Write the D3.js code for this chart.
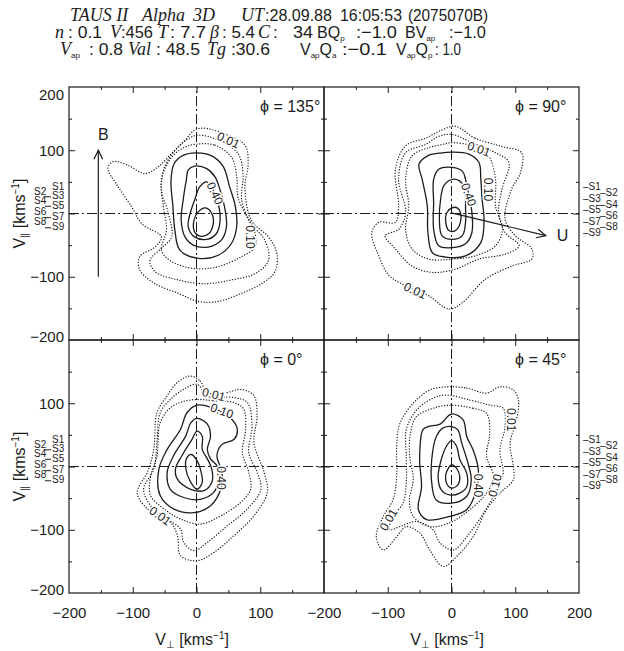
<!DOCTYPE html>
<html><head><meta charset="utf-8">
<script src="https://cdn.jsdelivr.net/npm/d3@7"></script>
<style>
body{margin:0;background:#fff}
svg text{fill:#1c1c1c;font-family:"Liberation Sans",Arial,sans-serif}
</style></head><body>
<svg id="chart" width="624" height="651"></svg>
<script>
// angle of each cut, panels in reading order
var panelPhi = ["135", "90", "0", "45"];

// contour paths, [V_perp, V_par] in km/s
var dotted135 = [
  [[10,135],[44,126],[76,108],[81,79],[76,42],[86,-11],[113,-37],[126,-63],[123,-92],[102,-111],[71,-126],[34,-139],[3,-139],[-29,-126],[-65,-111],[-89,-89],[-89,-68],[-65,-53],[-55,-37],[-86,-16],[-102,11],[-126,47],[-139,71],[-131,82],[-107,76],[-81,63],[-60,74],[-39,95],[-18,116],[-3,132]],
  [[3,124],[34,116],[65,95],[73,63],[71,21],[86,-16],[107,-42],[113,-74],[92,-95],[55,-105],[13,-111],[-29,-105],[-65,-92],[-73,-74],[-55,-55],[-39,-37],[-44,0],[-55,37],[-50,74],[-29,105],[-13,118]],
  [[3,110],[29,108],[55,89],[63,58],[65,26],[79,-5],[92,-32],[92,-53],[71,-68],[34,-84],[-3,-87],[-39,-76],[-55,-58],[-47,-26],[-52,11],[-55,53],[-39,89],[-18,105]]
];
var solid135 = [
  [[0,96],[24,91],[42,74],[52,42],[61,11],[63,-21],[55,-47],[34,-66],[3,-71],[-26,-58],[-34,-26],[-37,11],[-40,53],[-35,79],[-21,92]],
  [[-3,75],[16,71],[29,58],[37,37],[45,5],[47,-21],[39,-42],[18,-53],[-5,-50],[-18,-37],[-24,-11],[-21,21],[-16,53],[-13,69]],
  [[16,50],[26,37],[34,16],[37,-11],[31,-32],[16,-41],[-3,-37],[-13,-21],[-10,0],[-3,21],[5,42]],
  [[14,9],[24,0],[26,-18],[19,-32],[7,-36],[-3,-29],[-4,-11],[3,3]]
];
var labels135 = [["0.01",50,116],["0.40",29,32],["0.10",85,-37]];

var dotted90 = [
  [[6,138],[37,119],[79,106],[110,96],[108,64],[94,38],[84,-9],[100,-35],[126,-56],[126,-72],[95,-83],[53,-104],[17,-141],[-4,-151],[-36,-130],[-72,-114],[-98,-98],[-114,-67],[-125,-30],[-114,-14],[-88,-14],[-83,12],[-88,70],[-72,107],[-41,119],[-15,132]],
  [[1,125],[32,112],[69,96],[90,81],[79,38],[74,2],[84,-30],[106,-51],[85,-64],[43,-72],[6,-88],[-30,-93],[-62,-83],[-88,-56],[-104,-35],[-83,-25],[-72,2],[-83,54],[-72,96],[-41,109],[-20,122]],
  [[1,112],[32,107],[58,91],[69,54],[69,12],[80,-25],[69,-51],[37,-67],[1,-72],[-36,-72],[-62,-56],[-72,-25],[-67,12],[-72,54],[-62,91],[-36,104],[-15,109]]
];
var solid90 = [
  [[1,97],[27,94],[43,81],[46,54],[48,23],[51,-9],[46,-46],[22,-67],[-9,-69],[-30,-62],[-37,-30],[-38,12],[-46,54],[-51,78],[-36,92],[-15,96]],
  [[1,73],[17,67],[22,54],[27,30],[32,2],[32,-30],[22,-48],[1,-54],[-20,-51],[-28,-25],[-28,17],[-28,54],[-20,70]],
  [[1,54],[12,52],[19,44],[22,30],[22,12],[22,-14],[17,-35],[1,-41],[-15,-35],[-19,-9],[-17,23],[-12,44]],
  [[1,9],[9,9],[14,2],[14,-14],[6,-27],[-4,-27],[-9,-14],[-7,2]]
];
var labels90 = [["0.01",43,102],["0.40",27,30],["0.10",58,38],["0.01",-57,-122]];

var dotted0 = [
  [[-9,143],[6,135],[17,117],[48,117],[69,122],[90,112],[95,80],[90,38],[106,-9],[111,-41],[90,-78],[59,-109],[27,-136],[1,-149],[-25,-141],[-30,-109],[-41,-88],[-77,-67],[-93,-41],[-77,-9],[-67,27],[-62,85],[-46,112],[-30,133]],
  [[1,130],[17,112],[59,109],[80,101],[87,64],[82,22],[95,-9],[101,-36],[80,-67],[48,-94],[17,-120],[-4,-133],[-20,-120],[-25,-99],[-46,-83],[-72,-62],[-83,-36],[-67,-4],[-62,38],[-57,85],[-41,106],[-20,122]],
  [[1,106],[27,104],[59,101],[74,91],[77,59],[72,22],[82,-9],[85,-36],[69,-57],[38,-78],[6,-91],[-25,-83],[-51,-67],[-72,-46],[-72,-15],[-62,17],[-57,69],[-41,93],[-20,103]]
];
var solid0 = [
  [[1,97],[27,92],[53,77],[64,59],[59,43],[40,35],[32,17],[40,-9],[38,-36],[22,-62],[-4,-73],[-36,-67],[-57,-46],[-59,-4],[-46,27],[-25,59],[-15,85]],
  [[1,76],[17,67],[22,48],[17,27],[22,12],[32,1],[35,-20],[27,-41],[6,-52],[-20,-49],[-41,-36],[-46,-9],[-36,17],[-17,48],[-9,69]],
  [[1,56],[9,48],[9,27],[17,12],[24,-4],[24,-25],[12,-38],[-9,-36],[-30,-20],[-33,-4],[-23,17],[-7,43]],
  [[-8,19],[1,9],[6,-4],[9,-25],[1,-36],[-9,-25],[-17,-2],[-15,14]]
];
var labels0 = [["0.01",27,114],["0.10",40,88],["0.40",38,-18],["0.01",-57,-78]];

var dotted45 = [
  [[-8,126],[24,124],[55,116],[76,126],[97,121],[105,105],[102,74],[92,37],[97,0],[97,-21],[76,-42],[55,-68],[34,-111],[13,-137],[-13,-158],[-34,-132],[-50,-105],[-71,-95],[-86,-111],[-107,-132],[-118,-111],[-107,-79],[-92,-53],[-86,-16],[-86,32],[-81,68],[-60,100],[-34,121]],
  [[-8,113],[29,105],[60,97],[81,92],[84,63],[76,26],[81,-11],[71,-37],[50,-74],[24,-111],[3,-132],[-18,-121],[-29,-100],[-55,-87],[-81,-95],[-97,-100],[-92,-79],[-76,-58],[-71,-26],[-71,16],[-71,58],[-55,89],[-29,108]],
  [[-3,97],[34,92],[55,84],[60,53],[55,16],[66,-16],[55,-42],[29,-68],[-3,-89],[-34,-95],[-60,-79],[-66,-53],[-60,-21],[-66,21],[-64,55],[-55,79],[-29,92]]
];
var solid45 = [
  [[0,83],[18,74],[24,47],[34,26],[42,-5],[39,-37],[24,-68],[-3,-79],[-39,-84],[-52,-68],[-47,-32],[-50,11],[-45,58],[-37,63],[-18,67]],
  [[0,63],[10,58],[16,37],[26,5],[31,-21],[24,-47],[0,-58],[-24,-53],[-31,-26],[-31,11],[-24,47],[-13,61]],
  [[0,41],[8,32],[13,11],[24,-11],[24,-32],[13,-42],[-3,-45],[-16,-37],[-21,-16],[-16,11],[-8,32]],
  [[0,3],[8,-3],[13,-16],[10,-29],[0,-34],[-8,-26],[-9,-13],[-5,-3]]
];
var labels45 = [["0.01",94,74],["0.40",42,-30],["0.10",68,-30],["0.01",-99,-84]];

// heights of the S1..S9 marks
var sLeft = [43, 34, 28, 20, 13, 3, -5, -13, -21];
var sRight = [42, 33, 24, 15, 6, -3, -12, -21, -30];

// B field and bulk velocity arrows
var bArrow = [[-154,-100],[-154,100]];
var uArrow = [[0,1],[148,-35]];

var majorTicks = [-100, 0, 100];
var minorTicks = [-150, -50, 50, 150];
var yLabelTop = [200, 100, -100, -200];
var yLabelBottom = [100, -100, -200];
var xLabelLeft = [-200, -100, 0, 100];
var xLabelRight = [-200, -100, 0, 100, 200];

var dottedSets = [dotted135, dotted90, dotted0, dotted45];
var solidSets = [solid135, solid90, solid0, solid45];
var labelSets = [labels135, labels90, labels0, labels45];
// rotation of the contour labels
var labelRot = [[25,65,90],[20,70,90,25],[15,20,90,35],[90,90,-75,-60]];

var ink = "#1c1c1c";
var svg = d3.select("#chart");
var panelW = 255, panelH = 253, left0 = 69, top0 = 87;

function arrow(g, x, y, pts) {
  var x1 = x(pts[0][0]), y1 = y(pts[0][1]), x2 = x(pts[1][0]), y2 = y(pts[1][1]);
  var a = Math.atan2(y2 - y1, x2 - x1), len = 10, sp = 0.45;
  g.append("line").attr("x1", x1).attr("y1", y1).attr("x2", x2).attr("y2", y2)
    .attr("stroke", ink).attr("stroke-width", 1.2);
  g.append("path")
    .attr("d", "M" + (x2 - len * Math.cos(a - sp)) + "," + (y2 - len * Math.sin(a - sp)) + "L" + x2 + "," + y2 +
      "L" + (x2 - len * Math.cos(a + sp)) + "," + (y2 - len * Math.sin(a + sp)))
    .attr("fill", "none").attr("stroke", ink).attr("stroke-width", 1.2);
}

function tickSet(axisFn, scale, tx, ty) {
  [[majorTicks, 6], [minorTicks, 3]].forEach(function(t) {
    svg.append("g").attr("transform", "translate(" + tx + "," + ty + ")")
      .call(axisFn(scale).tickValues(t[0]).tickSize(-t[1]).tickFormat(""))
      .call(function(a) { a.select(".domain").remove(); })
      .selectAll("line").attr("stroke", ink).attr("stroke-width", 1);
  });
}

panelPhi.forEach(function(phi, i) {
  var col = i % 2, row = Math.floor(i / 2);
  var px = left0 + col * panelW, py = top0 + row * panelH;
  var x = d3.scaleLinear().domain([-200, 200]).range([px, px + panelW]);
  var y = d3.scaleLinear().domain([-200, 200]).range([py + panelH, py]);
  var g = svg.append("g");

  g.append("rect").attr("x", px).attr("y", py).attr("width", panelW).attr("height", panelH)
    .attr("fill", "none").attr("stroke", ink).attr("stroke-width", 1.2);

  tickSet(d3.axisBottom, x, 0, py + panelH);
  tickSet(d3.axisTop, x, 0, py);
  tickSet(d3.axisLeft, y, px, 0);
  tickSet(d3.axisRight, y, px + panelW, 0);

  // dash-dot zero lines
  g.append("line").attr("x1", x(-200)).attr("x2", x(200)).attr("y1", y(0)).attr("y2", y(0))
    .attr("stroke", ink).attr("stroke-width", 1).attr("stroke-dasharray", "10,3,2,3");
  g.append("line").attr("x1", x(0)).attr("x2", x(0)).attr("y1", y(-200)).attr("y2", y(200))
    .attr("stroke", ink).attr("stroke-width", 1).attr("stroke-dasharray", "10,3,2,3");

  var line = d3.line().curve(d3.curveCatmullRomClosed.alpha(0.5))
    .x(function(d) { return x(d[0]); }).y(function(d) { return y(d[1]); });

  g.selectAll(".dot").data(dottedSets[i]).join("path").attr("class", "dot")
    .attr("d", line).attr("fill", "none").attr("stroke", ink).attr("stroke-width", 1.3)
    .attr("stroke-dasharray", "0.1,2.7").attr("stroke-linecap", "round");
  g.selectAll(".sol").data(solidSets[i]).join("path").attr("class", "sol")
    .attr("d", line).attr("fill", "none").attr("stroke", ink).attr("stroke-width", 1.3);

  g.selectAll(".lbl").data(labelSets[i]).join("text").attr("class", "lbl")
    .attr("transform", function(d, j) { return "translate(" + x(d[1]) + "," + y(d[2]) + ") rotate(" + labelRot[i][j] + ")"; })
    .attr("text-anchor", "middle").attr("dy", "0.35em").attr("font-size", 12)
    .attr("stroke", "#fff").attr("stroke-width", 3).attr("paint-order", "stroke")
    .text(function(d) { return d[0]; });

  g.append("text").attr("x", px + 191).attr("y", py + 25).attr("font-size", 16)
    .text("\u03D5 = " + phi + "\u00B0");

  if (i === 0) {
    arrow(g, x, y, bArrow);
    g.append("text").attr("x", x(bArrow[1][0]) + 5).attr("y", y(bArrow[1][1]) - 10)
      .attr("text-anchor", "middle").attr("font-size", 16).text("B");
  }
  if (i === 1) {
    arrow(g, x, y, uArrow);
    g.append("text").attr("x", x(uArrow[1][0]) + 11).attr("y", y(uArrow[1][1]))
      .attr("dy", "0.35em").attr("font-size", 16).text("U");
  }

  // tick labels
  if (col === 0) {
    var yl = svg.append("g").attr("transform", "translate(" + px + ",0)")
      .call(d3.axisLeft(y).tickValues(row === 0 ? yLabelTop : yLabelBottom).tickSize(0).tickPadding(5));
    yl.select(".domain").remove();
    yl.selectAll("text").attr("font-size", 15).attr("fill", ink)
      .style("font-family", "'Liberation Sans',Arial,sans-serif")
      .attr("dy", function(d) { return d === 200 ? "0.85em" : d === -200 ? "0.1em" : "0.32em"; });
  }
  if (row === 1) {
    var xl = svg.append("g").attr("transform", "translate(0," + (py + panelH) + ")")
      .call(d3.axisBottom(x).tickValues(col === 0 ? xLabelLeft : xLabelRight).tickSize(0).tickPadding(14));
    xl.select(".domain").remove();
    xl.selectAll("text").attr("font-size", 15).attr("fill", ink)
      .style("font-family", "'Liberation Sans',Arial,sans-serif");
    var ax = svg.append("text").attr("x", x(-7)).attr("y", 645).attr("text-anchor", "middle").attr("font-size", 16);
    ax.append("tspan").text("V");
    ax.append("tspan").attr("font-size", 10).attr("dy", 3).text("\u22A5");
    ax.append("tspan").attr("dy", -3).text(" [kms");
    ax.append("tspan").attr("font-size", 10).attr("dy", -6).text("\u22121");
    ax.append("tspan").attr("dy", 6).text("]");
  }
  if (col === 0) {
    var ay = svg.append("text").attr("transform", "translate(25," + y(0) + ") rotate(-90)")
      .attr("text-anchor", "middle").attr("font-size", 16);
    ay.append("tspan").text("V");
    ay.append("tspan").attr("font-size", 10).attr("dy", 3).text("\u2225");
    ay.append("tspan").attr("dy", -3).text(" [kms");
    ay.append("tspan").attr("font-size", 10).attr("dy", -6).text("\u22121");
    ay.append("tspan").attr("dy", 6).text("]");
  }

  // S1..S9 marks
  if (col === 0) {
    sLeft.forEach(function(v, k) {
      var odd = k % 2 === 0, yy = y(v);
      svg.append("text").attr("x", odd ? 52 : 34).attr("y", yy).attr("dy", "0.35em")
        .attr("font-size", 10).text("S" + (k + 1));
      if (odd && k > 0) svg.append("line").attr("x1", 45).attr("x2", 51).attr("y1", yy + 1).attr("y2", yy + 1)
        .attr("stroke", ink).attr("stroke-width", 1);
    });
  } else {
    sRight.forEach(function(v, k) {
      var odd = k % 2 === 0;
      svg.append("text").attr("x", odd ? 583 : 600).attr("y", y(v)).attr("dy", "0.35em")
        .attr("font-size", 10).text("\u2013S" + (k + 1));
    });
  }
});

// header, three lines of run info: text, x start, font, width in px
var it = "'Liberation Serif',serif";
var sans = "'Liberation Sans',Arial,sans-serif";
var header = [
  [21, [["TAUS II", 70, it], ["Alpha", 142, it], ["3D", 193, it], ["UT", 241, it], [":28.09.88", 265, sans, 67], ["16:05:53", 340, sans, 62], ["(2075070B)", 408, sans, 80]]],
  [38, [["n", 55, it], [": 0.1", 68, sans, 34], ["V", 110, it], [":456", 121, sans, 32], ["T", 158, it], [": 7.7", 170, sans, 36], ["\u03B2", 210, it], [": 5.4", 222, sans, 33], ["C", 258, it], [":", 273, sans], ["34", 293, sans, 20], ["BQ|p", 317, sans], [":\u22121.0", 356, sans, 41], ["BV|ap", 405, sans], [":\u22121.0", 449, sans, 37]]],
  [55, [["V|ap", 60, it], [": 0.8", 89, sans, 34], ["Val", 128, it], [": 48.5", 156, sans, 44], ["Tg", 207, it], [":30.6", 231, sans, 39], ["V|apQ|a", 300, sans], [":\u22120.1", 342, sans, 45], ["V|apQ|p", 396, sans], [": 1.0", 435, sans, 26]]]
];
header.forEach(function(ln) {
  ln[1].forEach(function(s) {
    var hasSub = s[0].indexOf("|") >= 0;
    var t = svg.append("text").attr("x", s[1]).attr("y", ln[0])
      .style("font-family", s[2]).attr("font-size", s[2] === it ? 18 : (hasSub ? 16 : 17))
      .style("font-style", s[2] === it ? "italic" : "normal");
    if (s[3]) t.attr("textLength", s[3]).attr("lengthAdjust", "spacingAndGlyphs");
    var parts = s[0].split("|");
    t.append("tspan").text(parts[0]);
    for (var p = 1; p < parts.length; p++) {
      var m = parts[p].match(/^([a-z]+)(.*)$/);
      t.append("tspan").attr("font-size", 8).style("font-style", "normal").style("font-family", sans)
        .attr("dy", 3).text(m[1]);
      if (m[2]) t.append("tspan").attr("dy", -3).text(m[2]);
    }
  });
});
</script></body></html>
